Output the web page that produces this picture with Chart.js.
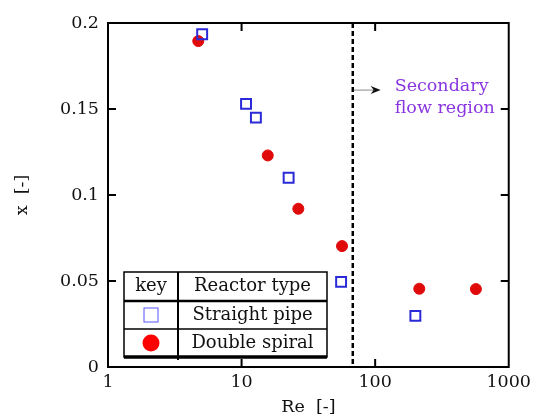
<!DOCTYPE html>
<html>
<head>
<meta charset="utf-8">
<script src="https://cdn.jsdelivr.net/npm/chart.js@4.4.0/dist/chart.umd.min.js"></script>
<style>
  html, body { margin: 0; padding: 0; background: #fff; }
  #wrap { width: 536px; height: 418px; }
</style>
</head>
<body>
<div id="wrap"><canvas id="chart" width="536" height="418"></canvas></div>
<script>
// data
const straightRe = [5.07, 10.8, 12.8, 22.5, 55.6, 200];
const straightX = [0.1935, 0.153, 0.145, 0.110, 0.0495, 0.0297];
const spiralRe = [4.74, 15.7, 26.6, 56.5, 214, 568];
const spiralX = [0.1895, 0.123, 0.092, 0.0703, 0.0455, 0.0453];

const xTicks = [1, 10, 100, 1000];
const xTickLabels = ['1', '10', '100', '1000'];
const yTicks = [0, 0.05, 0.1, 0.15, 0.2];
const yTickLabels = ['0', '0.05', '0.1', '0.15', '0.2'];

// secondary flow boundary + note
const secondaryRe = 68;
const noteLines = ['Secondary', 'flow region'];
const noteRe = 140;
const noteX = [0.1605, 0.1477];
const arrowX = 0.161;
const arrowEndRe = 110;

const legendHead = ['key', 'Reactor type'];
const legendRows = ['Straight pipe', 'Double spiral'];

const FONT = '"DejaVu Serif", serif';
const BLUE = '#2a2ad8';
const RED = '#e00a0a';

const toPts = (xs, ys) => xs.map((v, i) => ({ x: v, y: ys[i] }));

// frame, inner ticks, dashed boundary, arrow, note and the key table
const decorPlugin = {
  id: 'decor',
  beforeDatasetsDraw(chart) {
    const { ctx, chartArea: a, scales: { x, y } } = chart;
    ctx.save();
    // dashed line
    const dx = x.getPixelForValue(secondaryRe);
    ctx.strokeStyle = '#000';
    ctx.lineWidth = 2.5;
    ctx.setLineDash([5, 3]);
    ctx.beginPath();
    ctx.moveTo(dx, a.top);
    ctx.lineTo(dx, a.bottom);
    ctx.stroke();
    ctx.setLineDash([]);

    // arrow
    const ay = y.getPixelForValue(arrowX);
    const ax2 = x.getPixelForValue(arrowEndRe);
    ctx.strokeStyle = '#888';
    ctx.lineWidth = 1;
    ctx.beginPath();
    ctx.moveTo(dx + 1, ay);
    ctx.lineTo(ax2 - 4, ay);
    ctx.stroke();
    ctx.fillStyle = '#111';
    ctx.beginPath();
    ctx.moveTo(ax2, ay);
    ctx.lineTo(ax2 - 10, ay - 4);
    ctx.lineTo(ax2 - 7, ay);
    ctx.lineTo(ax2 - 10, ay + 4);
    ctx.closePath();
    ctx.fill();

    // note
    ctx.fillStyle = '#8a35e0';
    ctx.font = '17.5px ' + FONT;
    ctx.textAlign = 'left';
    ctx.textBaseline = 'alphabetic';
    const nx = x.getPixelForValue(noteRe);
    noteLines.forEach((t, i) => ctx.fillText(t, nx, y.getPixelForValue(noteX[i])));

    // frame
    ctx.strokeStyle = '#000';
    ctx.lineWidth = 2;
    ctx.strokeRect(a.left, a.top, a.right - a.left, a.bottom - a.top);
    // inner ticks on all sides
    const tl = 8;
    ctx.beginPath();
    xTicks.slice(1, -1).forEach(v => {
      const px = x.getPixelForValue(v);
      ctx.moveTo(px, a.bottom); ctx.lineTo(px, a.bottom - tl);
      ctx.moveTo(px, a.top); ctx.lineTo(px, a.top + tl);
    });
    yTicks.slice(1, -1).forEach(v => {
      const py = y.getPixelForValue(v);
      ctx.moveTo(a.left, py); ctx.lineTo(a.left + tl, py);
      ctx.moveTo(a.right, py); ctx.lineTo(a.right - tl, py);
    });
    ctx.stroke();
    ctx.restore();
  },
  afterDatasetsDraw(chart) {
    const { ctx, chartArea: a } = chart;
    const L = a.left + 16, T = a.bottom - 95, R = a.left + 219, B = a.bottom - 10;
    const C = L + 54;
    const r1 = T + 29, r2 = T + 57;
    ctx.save();
    ctx.fillStyle = '#fff';
    ctx.fillRect(L, T, R - L, B - T);
    ctx.strokeStyle = '#000';
    ctx.lineWidth = 1.5;
    ctx.strokeRect(L, T, R - L, B - T);
    ctx.beginPath();
    ctx.moveTo(L, r2); ctx.lineTo(R, r2);
    ctx.stroke();
    ctx.lineWidth = 2.5;
    ctx.beginPath();
    ctx.moveTo(L, r1); ctx.lineTo(R, r1);
    ctx.stroke();
    ctx.lineWidth = 2;
    ctx.beginPath();
    ctx.moveTo(C, T); ctx.lineTo(C, B + 3);
    ctx.stroke();
    ctx.lineWidth = 3.5;
    ctx.beginPath();
    ctx.moveTo(L, B); ctx.lineTo(R, B);
    ctx.stroke();

    ctx.fillStyle = '#111';
    ctx.font = '18px ' + FONT;
    ctx.textAlign = 'center';
    ctx.textBaseline = 'middle';
    const kx = (L + C) / 2, tx = (C + R) / 2;
    const rowY = [(T + r1) / 2, (r1 + r2) / 2, (r2 + B) / 2];
    ctx.fillText(legendHead[0], kx, rowY[0]);
    ctx.fillText(legendHead[1], tx, rowY[0]);
    ctx.fillText(legendRows[0], tx, rowY[1]);
    ctx.fillText(legendRows[1], tx, rowY[2]);

    ctx.strokeStyle = '#5555ff';
    ctx.lineWidth = 1;
    ctx.strokeRect(kx - 7, rowY[1] - 7, 14, 14);
    ctx.fillStyle = '#ff0000';
    ctx.beginPath();
    ctx.arc(kx, rowY[2], 8.5, 0, Math.PI * 2);
    ctx.fill();
    ctx.restore();
  }
};

const ctx = document.getElementById('chart').getContext('2d');
new Chart(ctx, {
  type: 'scatter',
  data: {
    datasets: [
      {
        label: 'Straight pipe',
        data: toPts(straightRe, straightX),
        pointStyle: 'rect',
        pointRadius: 7,
        pointHoverRadius: 7,
        borderWidth: 2,
        borderColor: BLUE,
        backgroundColor: 'rgba(0,0,0,0)'
      },
      {
        label: 'Double spiral',
        data: toPts(spiralRe, spiralX),
        pointStyle: 'circle',
        pointRadius: 5.5,
        pointHoverRadius: 5.5,
        borderWidth: 1,
        borderColor: RED,
        backgroundColor: RED
      }
    ]
  },
  options: {
    responsive: false,
    animation: false,
    events: [],
    layout: { padding: { top: 23, right: 24, left: 0, bottom: 0 } },
    plugins: {
      legend: { display: false },
      tooltip: { enabled: false }
    },
    scales: {
      x: {
        type: 'logarithmic',
        min: 1,
        max: 1000,
        grid: { display: false, drawTicks: false },
        border: { display: false },
        afterBuildTicks: s => { s.ticks = xTicks.map(v => ({ value: v, major: true })); },
        afterFit: s => { s.height = 51; },
        ticks: {
          autoSkip: false,
          maxRotation: 0,
          padding: 5,
          color: '#111',
          font: { family: FONT, size: 17.5 },
          callback: (v, i) => xTickLabels[i]
        },
        title: {
          display: true,
          text: 'Re  [-]',
          color: '#111',
          font: { family: FONT, size: 17.5 },
          padding: { top: 0, bottom: 0 }
        }
      },
      y: {
        min: 0,
        max: 0.2,
        grid: { display: false, drawTicks: false },
        border: { display: false },
        afterBuildTicks: s => { s.ticks = yTicks.map(v => ({ value: v })); },
        afterFit: s => { s.width = 108; },
        ticks: {
          padding: 9,
          color: '#111',
          font: { family: FONT, size: 17.5 },
          callback: (v, i) => yTickLabels[i]
        },
        title: {
          display: true,
          text: 'x  [-]',
          color: '#111',
          font: { family: FONT, size: 17.5 },
          padding: { top: 11.5, bottom: 0 }
        }
      }
    }
  },
  plugins: [decorPlugin]
});
</script>
</body>
</html>
